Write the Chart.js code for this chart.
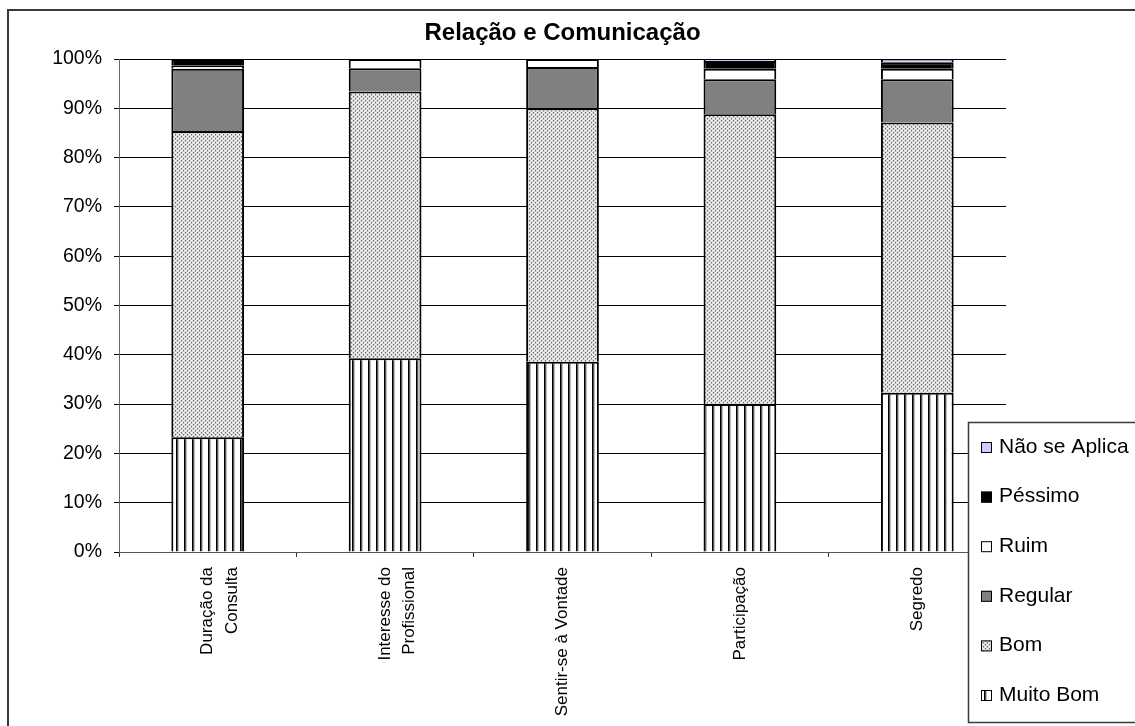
<!DOCTYPE html>
<html>
<head>
<meta charset="utf-8">
<title>Relação e Comunicação</title>
<script src="https://cdn.jsdelivr.net/npm/chart.js@4.4.1/dist/chart.umd.min.js"></script>
<style>
  html, body { margin: 0; padding: 0; background: #fff; }
  canvas { display: block; }
</style>
</head>
<body>
<canvas id="chart" width="1135" height="726"></canvas>
<script>
// Categories (multi-line labels as arrays)
const categories = [
  ["Duração da", "Consulta"],
  ["Interesse do", "Profissional"],
  "Sentir-se à Vontade",
  "Participação",
  "Segredo"
];

// Percent share of each answer per category
const muitoBom    = [23.3, 39.3, 38.6, 30.0, 32.3];
const bom         = [62.1, 54.1, 51.4, 58.8, 54.8];
const regular     = [12.6,  4.7,  8.4,  7.1,  8.8];
const ruim        = [0.65,  1.9,  1.6,  2.1,  2.1];
const pessimo     = [1.35,  0,    0,    1.6,  1.35];
const naoSeAplica = [0,     0,    0,    0.4,  0.65];

const yTickValues = [0, 10, 20, 30, 40, 50, 60, 70, 80, 90, 100];
const chartTitle = "Relação e Comunicação";

const FONT = "'Liberation Sans', Arial, Helvetica, sans-serif";

// Fill patterns
function stripePattern() {
  const c = document.createElement('canvas');
  c.width = 8; c.height = 8;
  const g = c.getContext('2d');
  g.fillStyle = '#fff'; g.fillRect(0, 0, 8, 8);
  g.fillStyle = '#000'; g.fillRect(0, 0, 1, 8);
  g.fillStyle = '#555'; g.fillRect(1, 0, 1, 8);
  g.fillStyle = '#bbb'; g.fillRect(2, 0, 1, 8);
  return g.createPattern(c, 'repeat');
}
function dotPattern() {
  const c = document.createElement('canvas');
  c.width = 4; c.height = 4;
  const g = c.getContext('2d');
  g.fillStyle = '#dedede'; g.fillRect(0, 0, 4, 4);
  g.fillStyle = '#ffffff'; g.fillRect(3, 0, 1, 1); g.fillRect(1, 2, 1, 1);
  g.fillStyle = '#6a6a6a'; g.fillRect(1, 0, 1, 1); g.fillRect(3, 2, 1, 1);
  g.fillStyle = '#b0b0b0'; g.fillRect(1, 1, 1, 1); g.fillRect(3, 3, 1, 1);
  return g.createPattern(c, 'repeat');
}

const stripes = stripePattern();
const dots = dotPattern();

const barCommon = {
  borderColor: '#000',
  borderWidth: 2,
  barPercentage: 0.41,
  categoryPercentage: 1.0
};

const datasets = [
  { label: 'Muito Bom',     data: muitoBom,    backgroundColor: stripes },
  { label: 'Bom',           data: bom,         backgroundColor: dots },
  { label: 'Regular',       data: regular,     backgroundColor: '#808080' },
  { label: 'Ruim',          data: ruim,        backgroundColor: '#ffffff' },
  { label: 'Péssimo',       data: pessimo,     backgroundColor: '#000000' },
  { label: 'Não se Aplica', data: naoSeAplica, backgroundColor: '#ccccff' }
].map(d => Object.assign({}, barCommon, d));

// Outer frame, title and boxed legend
const decorations = {
  id: 'decorations',
  beforeDraw(chart) {
    const ctx = chart.ctx;
    ctx.save();
    ctx.fillStyle = '#fff';
    ctx.fillRect(0, 0, chart.width, chart.height);
    ctx.strokeStyle = '#3a3a3a';
    ctx.lineWidth = 2;
    ctx.strokeRect(8, 10, chart.width + 20, chart.height + 20);
    ctx.restore();
  },
  afterDraw(chart) {
    const ctx = chart.ctx;
    const area = chart.chartArea;
    ctx.save();
    // title
    ctx.fillStyle = '#000';
    ctx.font = 'bold 24px ' + FONT;
    ctx.textAlign = 'center';
    ctx.textBaseline = 'middle';
    ctx.fillText(chartTitle, (area.left + area.right) / 2, 33);

    // legend box
    const lx = 968, ly = 422, lw = 200, lh = 300;
    ctx.fillStyle = '#fff';
    ctx.fillRect(lx, ly, lw, lh);
    ctx.strokeStyle = '#3a3a3a';
    ctx.lineWidth = 1.5;
    ctx.strokeRect(lx + 0.5, ly + 0.5, lw, lh);

    ctx.font = '21px ' + FONT;
    ctx.textAlign = 'left';
    ctx.textBaseline = 'middle';
    const items = chart.data.datasets.slice().reverse();
    items.forEach((ds, i) => {
      const cy = 447 + i * 49.6;
      ctx.fillStyle = ds.backgroundColor;
      ctx.fillRect(981, cy - 5, 11, 11);
      ctx.strokeStyle = '#000';
      ctx.lineWidth = 1;
      ctx.strokeRect(981.5, cy - 4.5, 10, 10);
      ctx.fillStyle = '#000';
      ctx.fillText(ds.label, 999, cy);
    });
    ctx.restore();
  }
};

new Chart(document.getElementById('chart'), {
  type: 'bar',
  data: { labels: categories, datasets },
  plugins: [decorations],
  options: {
    responsive: false,
    animation: false,
    devicePixelRatio: 1,
    layout: { padding: { left: 0, top: 59, right: 129, bottom: 0 } },
    plugins: {
      legend: { display: false },
      title: { display: false },
      tooltip: { enabled: false }
    },
    scales: {
      x: {
        stacked: true,
        afterFit(scale) { scale.height = 174; },
        grid: {
          display: true,
          drawOnChartArea: false,
          drawTicks: true,
          tickLength: 5,
          offset: true,
          color: '#333'
        },
        border: { display: true, color: '#555', width: 1 },
        ticks: {
          autoSkip: false,
          maxRotation: 90,
          minRotation: 90,
          padding: 10,
          color: '#000',
          font: { family: FONT, size: 17, lineHeight: 1.45 }
        }
      },
      y: {
        stacked: true,
        min: 0,
        max: 100,
        afterFit(scale) { scale.width = 119; },
        afterBuildTicks(scale) { scale.ticks = yTickValues.map(v => ({ value: v })); },
        grid: {
          color: '#000',
          lineWidth: 1,
          drawTicks: true,
          tickLength: 5
        },
        border: { display: true, color: '#666', width: 1 },
        ticks: {
          padding: 12,
          color: '#000',
          font: { family: FONT, size: 19.5 },
          callback: v => v + '%'
        }
      }
    }
  }
});
</script>
</body>
</html>
